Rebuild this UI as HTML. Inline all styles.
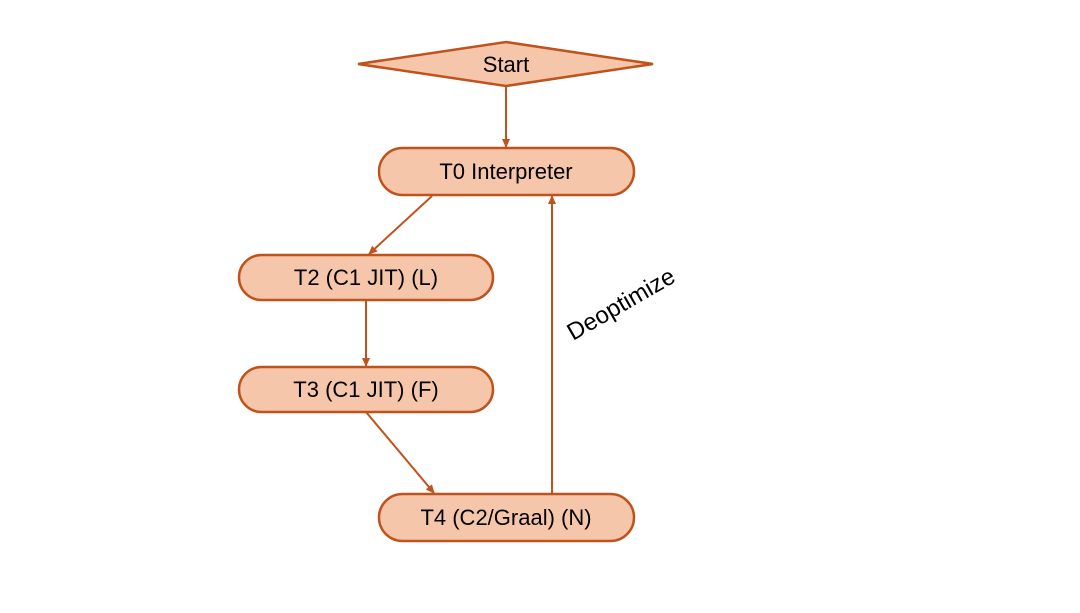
<!DOCTYPE html>
<html><head><style>body{margin:0;background:#fff}</style></head><body>
<svg width="1080" height="608" xmlns="http://www.w3.org/2000/svg" font-family="'Liberation Sans',sans-serif">
<defs><marker id="a" markerWidth="10" markerHeight="10" refX="8" refY="4" orient="auto" markerUnits="userSpaceOnUse"><path d="M0,0 L9,4 L0,8 Z" fill="#c0521c"/></marker></defs>
<g fill="#f6c6aa" stroke="#c0521c" stroke-width="2.5">
<polygon points="358,64 506,42 653,64 506,86"/>
<rect x="379" y="148" width="255" height="47" rx="23.5"/>
<rect x="239" y="255" width="254" height="45" rx="22.5"/>
<rect x="239" y="367" width="254" height="45" rx="22.5"/>
<rect x="379" y="494" width="255" height="47" rx="23.5"/>
</g>
<g stroke="#c0521c" stroke-width="2" fill="none" marker-end="url(#a)">
<line x1="506" y1="86" x2="506" y2="147"/>
<line x1="432" y1="196" x2="369" y2="254"/>
<line x1="366" y1="300" x2="366" y2="366"/>
<line x1="366" y1="412" x2="434" y2="493"/>
<line x1="552" y1="494" x2="552" y2="196"/>
</g>
<g font-size="22" text-anchor="middle" fill="#000">
<text x="506" y="72">Start</text>
<text x="506" y="179">T0 Interpreter</text>
<text x="366" y="285">T2 (C1 JIT) (L)</text>
<text x="366" y="397">T3 (C1 JIT) (F)</text>
<text x="506" y="525">T4 (C2/Graal) (N)</text>
<text x="621" y="312" font-size="24" transform="rotate(-30 621 304)">Deoptimize</text>
</g>
</svg>
</body></html>
